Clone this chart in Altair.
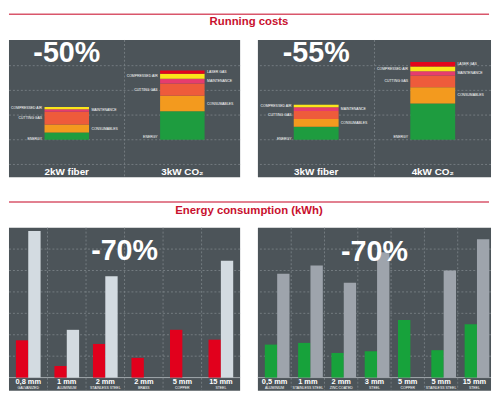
import altair as alt
import pandas as pd

# ---------------- data ----------------
# Running costs (stacked cost components, arbitrary units)
segments = ["ENERGY", "CONSUMABLES", "CUTTING GAS", "MAINTENANCE", "COMPRESSED AIR", "LASER GAS"]
seg_side = ["left", "right", "left", "right", "left", "right"]
seg_colors = ["#1e9c3f", "#f39a1e", "#ee5b3b", "#e63c6e", "#fbe61a", "#e3061c"]

rc_left_cats = ["2kW fiber", "3kW CO₂"]
rc_right_cats = ["3kW fiber", "4kW CO₂"]
rc_2kw_fiber = [0.29, 0.33, 0.51, 0.11, 0.09, 0.0]
rc_3kw_co2 = [1.15, 0.63, 0.50, 0.19, 0.20, 0.13]
rc_3kw_fiber = [0.53, 0.31, 0.32, 0.16, 0.10, 0.0]
rc_4kw_co2 = [1.47, 0.66, 0.47, 0.17, 0.20, 0.18]
rc_savings = ["-50%", "-55%"]

# Energy consumption (kWh)
el_thickness = ["0,8 mm", "1 mm", "2 mm", "2 mm", "5 mm", "15 mm"]
el_material = ["GALVANIZED", "ALUMINIUM", "STAINLESS STEEL", "BRASS", "COPPER", "STEEL"]
el_fiber = [1.74, 0.54, 1.57, 0.92, 2.23, 1.77]
el_co2 = [6.85, 2.23, 4.73, None, None, 5.46]

er_thickness = ["0,5 mm", "1 mm", "2 mm", "3 mm", "5 mm", "5 mm", "15 mm"]
er_material = ["ALUMINIUM", "STAINLESS STEEL", "ZINC COATED", "STEEL", "COPPER", "STAINLESS STEEL", "STEEL"]
er_fiber = [1.54, 1.62, 1.15, 1.23, 2.69, 1.28, 2.49]
er_co2 = [4.85, 5.23, 4.43, 5.85, None, 5.00, 6.46]
ec_savings = ["-70%", "-70%"]

# ---------------- style ----------------
BG = "#4c5459"
GRID = "#7d858a"
FONT = "Liberation Sans"
TITLE_RED = "#c8102e"
LINE_RED = "#d9566b"
W_L, W_R, GAP = 234, 236, 16
TOTAL_W = W_L + W_R + GAP


def cost_panel(cats, series, saving, width):
    rows = []
    for cat, vals in zip(cats, series):
        start = 0.0
        for i, (seg, v) in enumerate(zip(segments, vals)):
            if v <= 0:
                continue
            frac = 0.08 if seg == "ENERGY" else 0.5
            rows.append({"cat": cat, "seg": seg, "order": i, "start": start,
                         "end": start + v, "side": seg_side[i],
                         "ly": start + v * frac, "col": seg_colors[i]})
            start += v
    df = pd.DataFrame(rows)
    xs = alt.Scale(type="band", domain=cats, paddingInner=0, paddingOuter=0)
    ys = alt.Scale(domain=[-1.52, 4.04], nice=False, zero=False)

    grid = alt.Chart(pd.DataFrame({"g": [-1, 0, 1, 2, 3]})).mark_rule(
        color=GRID, strokeDash=[2, 2], strokeWidth=0.8
    ).encode(y=alt.Y("g:Q", scale=ys, axis=None))
    divider = alt.Chart(pd.DataFrame({"cat": cats[1:]})).mark_rule(
        color=GRID, strokeDash=[2, 2], strokeWidth=0.8
    ).encode(x=alt.X("cat:N", scale=xs, axis=None, bandPosition=0))
    bars = alt.Chart(df).mark_bar(width=alt.RelativeBandSize(0.385)).encode(
        x=alt.X("cat:N", scale=xs, axis=None),
        y=alt.Y("start:Q", scale=ys, axis=None),
        y2="end:Q",
        color=alt.Color("col:N", scale=None),
    )
    left_lbl = alt.Chart(df).transform_filter("datum.side == 'left'").mark_text(
        align="right", dx=-25, fontSize=3.5, color="white", font=FONT
    ).encode(x=alt.X("cat:N", scale=xs, axis=None), y=alt.Y("ly:Q", scale=ys, axis=None), text="seg:N")
    right_lbl = alt.Chart(df).transform_filter("datum.side == 'right'").mark_text(
        align="left", dx=25, fontSize=3.5, color="white", font=FONT
    ).encode(x=alt.X("cat:N", scale=xs, axis=None), y=alt.Y("ly:Q", scale=ys, axis=None), text="seg:N")
    cat_lbl = alt.Chart(pd.DataFrame({"cat": cats})).mark_text(
        fontSize=10, fontWeight="bold", color="white", font=FONT
    ).encode(x=alt.X("cat:N", scale=xs, axis=None), y=alt.datum(-1.32), text="cat:N")
    save = alt.Chart(pd.DataFrame({"cat": [cats[0]], "t": [saving]})).mark_text(
        fontSize=29, fontWeight="bold", color="white", font=FONT
    ).encode(x=alt.X("cat:N", scale=xs, axis=None), y=alt.datum(3.52), text="t:N")
    return alt.layer(grid, divider, bars, left_lbl, right_lbl, cat_lbl, save).properties(
        width=width, height=139, view=alt.ViewBackground(fill=BG, strokeWidth=0)
    )


def energy_panel(thick, mat, fiber, co2, fiber_color, co2_color, width, pad_outer,
                 saving, save_key_idx, save_band, save_y):
    keys = [f"{t}|{m}" for t, m in zip(thick, mat)]
    rows = []
    for k, f, c in zip(keys, fiber, co2):
        rows.append({"key": k, "series": "fiber", "value": f, "base": 0, "col": fiber_color})
        if c is not None:
            rows.append({"key": k, "series": "co2", "value": c, "base": 0, "col": co2_color})
    df = pd.DataFrame(rows)
    lab = pd.DataFrame({"key": keys, "thick": thick, "mat": mat})
    xs = alt.Scale(type="band", domain=keys, paddingInner=0, paddingOuter=0)
    ys = alt.Scale(domain=[-0.61, 7.0], nice=False, zero=False)

    grid = alt.Chart(pd.DataFrame({"g": [1, 2, 3, 4, 5, 6]})).mark_rule(
        color=GRID, strokeDash=[2, 2], strokeWidth=0.8
    ).encode(y=alt.Y("g:Q", scale=ys, axis=None))
    base = alt.Chart(pd.DataFrame({"g": [0]})).mark_rule(
        color="#a3aaae", strokeWidth=1
    ).encode(y=alt.Y("g:Q", scale=ys, axis=None))
    divider = alt.Chart(pd.DataFrame({"key": keys[1:]})).mark_rule(
        color=GRID, strokeDash=[2, 2], strokeWidth=0.8
    ).encode(x=alt.X("key:N", scale=xs, axis=None, bandPosition=0))
    bars = alt.Chart(df).mark_bar().encode(
        x=alt.X("key:N", scale=xs, axis=None),
        xOffset=alt.XOffset("series:N", scale=alt.Scale(domain=["fiber", "co2"], paddingInner=0, paddingOuter=pad_outer)),
        y=alt.Y("value:Q", scale=ys, axis=None),
        y2="base:Q",
        color=alt.Color("col:N", scale=None),
    )
    t1 = alt.Chart(lab).mark_text(fontSize=7.5, fontWeight="bold", color="white", font=FONT).encode(
        x=alt.X("key:N", scale=xs, axis=None), y=alt.datum(-0.2), text="thick:N")
    t2 = alt.Chart(lab).mark_text(fontSize=3.5, color="white", font=FONT).encode(
        x=alt.X("key:N", scale=xs, axis=None), y=alt.datum(-0.47), text="mat:N")
    save = alt.Chart(pd.DataFrame({"key": [keys[save_key_idx]], "t": [saving]})).mark_text(
        fontSize=29, fontWeight="bold", color="white", font=FONT
    ).encode(x=alt.X("key:N", scale=xs, axis=None, bandPosition=save_band), y=alt.datum(save_y), text="t:N")
    return alt.layer(grid, base, divider, bars, t1, t2, save).properties(
        width=width, height=165, view=alt.ViewBackground(fill=BG, strokeWidth=0)
    )


def header(title, h, rule_y, text_y):
    d = pd.DataFrame({"t": [title]})
    rule = alt.Chart(d).mark_rule(color=LINE_RED, strokeWidth=1.5).encode(
        x=alt.value(0), x2=alt.value(TOTAL_W), y=alt.value(rule_y))
    txt = alt.Chart(d).mark_text(fontSize=11.5, fontWeight="bold", color=TITLE_RED, font=FONT).encode(
        x=alt.value(TOTAL_W / 2), y=alt.value(text_y), text="t:N")
    return alt.layer(rule, txt).properties(width=TOTAL_W, height=h,
                                           view=alt.ViewBackground(fill="white", strokeWidth=0))


tl = cost_panel(rc_left_cats, [rc_2kw_fiber, rc_3kw_co2], rc_savings[0], W_L)
tr = cost_panel(rc_right_cats, [rc_3kw_fiber, rc_4kw_co2], rc_savings[1], W_R)
bl = energy_panel(el_thickness, el_material, el_fiber, el_co2, "#e1001c", "#d3dbe1",
                  W_L, 0.56, ec_savings[0], 3, 0, 5.92)
br = energy_panel(er_thickness, er_material, er_fiber, er_co2, "#17a23b", "#9ea4ac",
                  W_R, 0.38, ec_savings[1], 3, 0.5, 5.84)

chart = alt.vconcat(
    header("Running costs", 29, 4, 12),
    alt.hconcat(tl, tr, spacing=GAP),
    header("Energy consumption (kWh)", 49, 24, 33),
    alt.hconcat(bl, br, spacing=GAP),
    spacing=0,
).properties(padding=0, background="white").configure_view(strokeWidth=0)

chart.save("out.html", embed_options={"renderer": "svg", "actions": False})
